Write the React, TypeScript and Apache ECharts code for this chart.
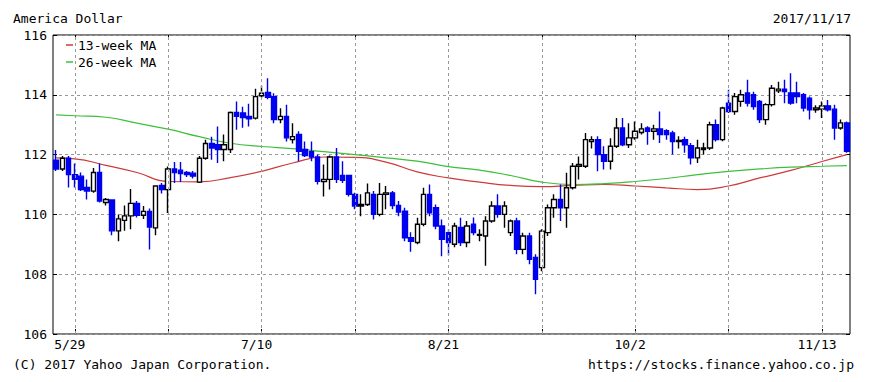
import React, { useEffect, useRef } from "react";
import * as echarts from "echarts";

const titleText = "America Dollar";
const asOfText = "2017/11/17";
const copyrightText = "(C) 2017 Yahoo Japan Corporation.";
const sourceText = "https://stocks.finance.yahoo.co.jp";
const legendNames = ["13-week MA", "26-week MA"];

// trading days (weekdays) 2017-05-24 .. 2017-11-17
function buildDates(): string[] {
  const out: string[] = [];
  const d = new Date(Date.UTC(2017, 4, 24));
  const end = Date.UTC(2017, 10, 17);
  while (d.getTime() <= end) {
    const wd = d.getUTCDay();
    if (wd !== 0 && wd !== 6) out.push(`${d.getUTCMonth() + 1}/${d.getUTCDate()}`);
    d.setUTCDate(d.getUTCDate() + 1);
  }
  return out;
}
const dates = buildDates();

const opens = [
  111.81, 111.52, 111.88, 111.33, 111.28, 110.9, 110.78, 111.4, 110.4, 110.48,
  109.45, 109.8, 109.95, 110.37, 109.97, 110.1, 109.55, 110.97, 110.83, 111.52,
  111.48, 111.4, 111.38, 111.08, 111.88, 112.37, 112.33, 112.17, 112.17, 113.41,
  113.39, 113.28, 113.22, 113.97, 114.08, 113.94, 113.17, 113.28, 112.5, 112.67,
  112.17, 112.1, 111.92, 111.1, 111.17, 111.92, 111.3, 111.3, 110.67, 110.28,
  110.33, 110.67, 110.0, 110.67, 110.72, 110.3, 110.11, 109.22, 109.06, 109.67,
  110.67, 110.22, 109.61, 109.39, 109.0, 109.56, 109.06, 109.67, 109.3, 109.28,
  109.78, 110.28, 110.0, 109.39, 109.78, 108.83, 109.28, 108.56, 108.22, 109.39,
  110.22, 110.5, 110.22, 110.89, 111.61, 111.61, 112.44, 112.5, 112.0, 111.78,
  112.28, 112.89, 112.33, 112.56, 112.74, 112.89, 112.78, 112.86, 112.8, 112.72,
  112.44, 112.5, 112.3, 111.89, 112.17, 112.22, 113.0, 112.5, 113.72, 113.44,
  113.78, 114.06, 114.0, 113.78, 113.17, 113.67, 114.13, 114.19, 114.06, 114.06,
  114.0, 113.89, 113.5, 113.52, 113.63, 113.52, 112.89, 113.06,
];
const closes = [
  111.52, 111.88, 111.33, 111.17, 110.83, 110.78, 111.4, 110.45, 110.5, 109.45,
  109.85, 109.95, 110.37, 109.97, 110.1, 109.58, 110.95, 110.83, 111.52, 111.4,
  111.37, 111.33, 111.28, 111.88, 112.37, 112.22, 112.17, 112.33, 113.41, 113.28,
  113.24, 113.2, 113.94, 114.05, 113.92, 113.17, 113.28, 112.56, 112.6, 112.11,
  111.97, 111.92, 111.11, 111.17, 111.92, 111.17, 111.14, 110.67, 110.28, 110.33,
  110.72, 110.0, 110.67, 110.72, 110.3, 110.08, 109.22, 109.1, 109.67, 110.67,
  110.05, 109.61, 109.17, 109.06, 109.61, 109.06, 109.61, 109.39, 109.33, 109.78,
  110.28, 110.0, 110.28, 109.78, 108.83, 109.28, 108.5, 107.83, 109.44, 110.22,
  110.5, 110.22, 110.89, 111.61, 111.67, 112.5, 112.5, 112.0, 111.78, 112.28,
  112.89, 112.33, 112.56, 112.78, 112.86, 112.78, 112.86, 112.67, 112.67, 112.44,
  112.47, 112.33, 111.89, 112.22, 112.22, 113.0, 112.5, 113.56, 113.44, 113.94,
  114.0, 113.72, 113.61, 113.17, 113.67, 114.22, 114.19, 114.11, 113.72, 113.94,
  113.56, 113.5, 113.56, 113.63, 113.5, 112.89, 113.06, 112.11,
];
const highs = [
  112.15, 111.95, 111.95, 111.7, 111.4, 111.17, 111.55, 111.7, 110.55, 110.5,
  110.0, 110.3, 110.85, 110.45, 110.28, 110.2, 110.95, 111.05, 111.6, 111.75,
  111.75, 111.45, 111.45, 111.95, 112.5, 112.6, 112.94, 112.67, 113.44, 113.78,
  113.6, 113.7, 114.2, 114.3, 114.55, 114.05, 113.55, 113.67, 113.05, 112.78,
  112.44, 112.44, 112.0, 111.67, 111.97, 112.22, 111.78, 111.33, 110.72, 110.67,
  111.03, 110.78, 111.05, 110.95, 110.78, 110.45, 110.22, 109.4, 109.89, 110.89,
  111.0, 110.33, 109.83, 109.5, 109.72, 109.89, 109.78, 109.9, 109.5, 109.94,
  110.44, 110.67, 110.44, 109.83, 109.89, 109.39, 109.39, 108.67, 109.5, 110.33,
  110.67, 111.0, 111.39, 111.72, 111.94, 112.72, 112.61, 112.61, 112.28, 112.55,
  113.22, 113.22, 113.05, 113.11, 113.05, 112.95, 113.0, 113.44, 112.85, 112.8,
  112.61, 112.6, 112.39, 112.5, 112.4, 113.1, 113.17, 113.6, 114.17, 114.06,
  114.17, 114.5, 114.1, 113.83, 113.72, 114.33, 114.44, 114.5, 114.72, 114.44,
  114.06, 113.94, 113.65, 113.78, 113.83, 113.67, 113.17, 113.11,
];
const lows = [
  111.45, 111.45, 110.9, 110.9, 110.78, 110.5, 110.72, 110.4, 110.3, 109.3,
  109.1, 109.45, 109.5, 109.9, 109.85, 108.83, 109.3, 110.7, 110.05, 111.05,
  111.08, 111.25, 111.2, 111.05, 111.83, 111.83, 111.72, 111.78, 112.05, 112.83,
  112.9, 112.94, 113.17, 113.9, 113.85, 113.05, 113.05, 112.44, 112.37, 111.78,
  111.92, 111.78, 111.0, 110.6, 110.83, 111.05, 111.05, 110.6, 110.17, 109.94,
  110.28, 109.83, 109.94, 110.17, 110.17, 109.94, 109.1, 108.75, 109.0, 109.6,
  109.94, 109.5, 108.6, 108.63, 108.9, 108.94, 108.9, 109.3, 109.1, 108.28,
  109.72, 109.89, 109.55, 109.28, 108.67, 108.67, 108.33, 107.33, 108.1, 109.28,
  109.89, 109.78, 109.55, 110.83, 111.17, 111.55, 112.2, 111.44, 111.5, 111.5,
  112.22, 112.28, 112.22, 112.5, 112.67, 112.33, 112.5, 112.39, 112.5, 112.0,
  112.2, 112.06, 111.67, 111.72, 112.0, 112.15, 112.44, 112.45, 113.39, 113.33,
  113.6, 113.61, 113.5, 113.06, 113.0, 113.61, 114.06, 113.72, 113.67, 113.72,
  113.44, 113.17, 113.4, 113.22, 113.44, 112.5, 112.83, 112.06,
];

// moving averages read once per week (category index of the sample)
const maIndex = [0, 3, 8, 13, 18, 23, 28, 33, 38, 43, 48, 53, 58, 63, 68, 73, 78, 83, 88, 93, 98, 103, 108, 113, 118, 123, 127];
const ma13 = [
  111.89, 111.86, 111.64, 111.4, 111.1, 111.09, 111.23, 111.44, 111.72, 111.92,
  111.91, 111.75, 111.42, 111.22, 111.08, 110.97, 110.93, 110.97, 111.0, 110.95,
  110.89, 110.83, 110.95, 111.22, 111.47, 111.77, 112.0,
];
const ma26 = [
  113.33, 113.3, 113.25, 113.05, 112.85, 112.6, 112.38, 112.27, 112.2, 112.1,
  112.0, 111.89, 111.78, 111.6, 111.48, 111.3, 111.08, 111.0, 111.03, 111.1,
  111.2, 111.33, 111.44, 111.52, 111.58, 111.61, 111.63,
];

const yTicks = { min: 106, max: 116, step: 2 };
const gridEvery = 15;
const labelEvery = 30;
const firstMark = 3;

const FONT = "DejaVu Sans Mono";
const RED = "#cc3b3b";
const GREEN = "#3cbf3c";
const BLUE = "#0000f0";

export default function App() {
  const ref = useRef<HTMLDivElement>(null);
  useEffect(() => {
    document.body.style.margin = "0";
    if (!ref.current) return;
    const chart = echarts.init(ref.current, undefined, { renderer: "svg" });
    const candles = dates.map((_, i) => [opens[i], closes[i], lows[i], highs[i]]);
    const gridDates = dates.filter((_, i) => i >= firstMark && (i - firstMark) % gridEvery === 0);
    const tickFn = (i: number) => i >= firstMark && (i - firstMark) % gridEvery === 0;
    const labelFn = (i: number) => i >= firstMark && (i - firstMark) % labelEvery === 0;

    const option: any = {
      animation: false,
      backgroundColor: "#ffffff",
      textStyle: { fontFamily: FONT },
      grid: {
        left: 53, right: 20, top: 35, bottom: 48,
        show: true, borderColor: "#000", borderWidth: 1,
      },
      xAxis: [
        {
          type: "category", data: dates, boundaryGap: true,
          axisLine: { show: false },
          axisTick: { show: true, inside: true, length: 5, alignWithLabel: true, interval: tickFn, lineStyle: { color: "#000" } },
          axisLabel: { interval: labelFn, color: "#000", fontSize: 13, fontFamily: FONT, margin: 4, padding: [0, 10, 0, 0] },
          splitLine: { show: false },
        },
        {
          type: "category", data: dates, boundaryGap: true, position: "top",
          axisLine: { show: false },
          axisTick: { show: true, inside: true, length: 5, alignWithLabel: true, interval: tickFn, lineStyle: { color: "#000" } },
          axisLabel: { show: false },
          splitLine: { show: false },
        },
      ],
      yAxis: [
        {
          type: "value", min: yTicks.min, max: yTicks.max, interval: yTicks.step,
          axisLine: { show: false },
          axisTick: { show: true, inside: true, length: 4, lineStyle: { color: "#000" } },
          axisLabel: { color: "#000", fontSize: 13, fontFamily: FONT, margin: 6 },
          splitLine: { show: true, lineStyle: { type: [3, 3], color: "#999", width: 1 } },
        },
        {
          type: "value", min: yTicks.min, max: yTicks.max, interval: yTicks.step, position: "right",
          axisLine: { show: false },
          axisTick: { show: true, inside: true, length: 4, lineStyle: { color: "#000" } },
          axisLabel: { show: false },
          splitLine: { show: false },
        },
      ],
      series: [
        {
          name: legendNames[0], type: "line", z: 2, smooth: true, symbol: "none",
          lineStyle: { color: RED, width: 1.2 },
          data: maIndex.map((i, k) => [dates[i], ma13[k]]),
          markLine: {
            silent: true, symbol: ["none", "none"], label: { show: false },
            lineStyle: { type: [3, 3], color: "#999", width: 1 },
            data: gridDates.map((d) => ({ xAxis: d })),
          },
        },
        {
          name: legendNames[1], type: "line", z: 2, smooth: true, symbol: "none",
          lineStyle: { color: GREEN, width: 1.2 },
          data: maIndex.map((i, k) => [dates[i], ma26[k]]),
        },
        {
          type: "candlestick", z: 3, barWidth: 5, data: candles,
          itemStyle: { color: "#ffffff", color0: BLUE, borderColor: "#000000", borderColor0: BLUE, borderWidth: 1.4 },
        },
      ],
      graphic: [
        { type: "text", left: 13, top: 12, style: { text: titleText, font: `13px '${FONT}'`, fill: "#000" } },
        { type: "text", right: 19, top: 12, style: { text: asOfText, font: `13px '${FONT}'`, fill: "#000" } },
        { type: "text", left: 13, top: 358, style: { text: copyrightText, font: `13px '${FONT}'`, fill: "#000" } },
        { type: "text", right: 16, top: 358, style: { text: sourceText, font: `13px '${FONT}'`, fill: "#000" } },
        { type: "line", shape: { x1: 66, y1: 45, x2: 73, y2: 45 }, style: { stroke: RED, lineWidth: 1.5 } },
        { type: "text", x: 78, y: 45, style: { text: legendNames[0], font: `13px '${FONT}'`, fill: "#000", verticalAlign: "middle" } },
        { type: "line", shape: { x1: 66, y1: 62, x2: 73, y2: 62 }, style: { stroke: GREEN, lineWidth: 1.5 } },
        { type: "text", x: 78, y: 62, style: { text: legendNames[1], font: `13px '${FONT}'`, fill: "#000", verticalAlign: "middle" } },
      ],
    };
    chart.setOption(option);
    return () => chart.dispose();
  }, []);
  return <div ref={ref} style={{ position: "fixed", left: 0, top: 0, width: 870, height: 382 }} />;
}
